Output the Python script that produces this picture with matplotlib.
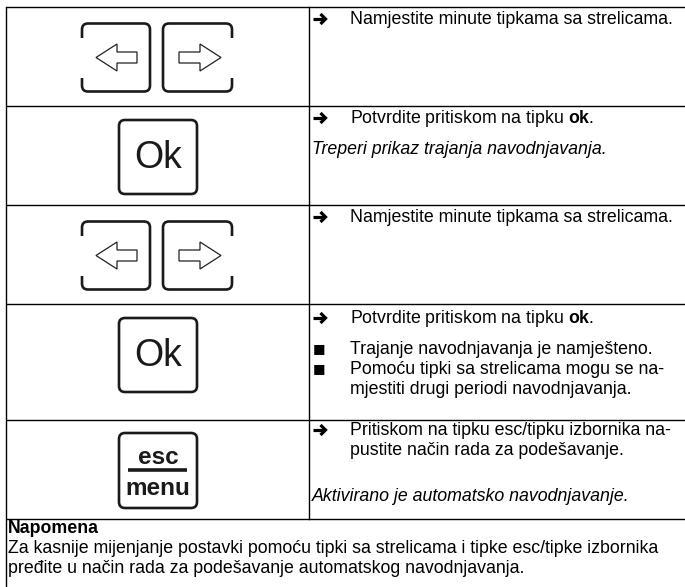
import matplotlib
matplotlib.use('Agg')
import matplotlib.pyplot as plt
from matplotlib.patches import FancyBboxPatch, Rectangle, Polygon

plt.rcParams['font.family'] = ['Liberation Sans', 'DejaVu Sans']
plt.rcParams['mathtext.fontset'] = 'custom'
plt.rcParams['mathtext.rm'] = 'Liberation Sans'
plt.rcParams['mathtext.bf'] = 'Liberation Sans:bold'

# content of the table
key_types = ['arrows', 'ok', 'arrows', 'ok', 'esc']
row_texts = [
    [('arrow', 'Namjestite minute tipkama sa strelicama.', 'normal')],
    [('arrow', r'Potvrdite pritiskom na tipku $\mathbf{ok}$.', 'normal'),
     ('', 'Treperi prikaz trajanja navodnjavanja.', 'italic')],
    [('arrow', 'Namjestite minute tipkama sa strelicama.', 'normal')],
    [('arrow', r'Potvrdite pritiskom na tipku $\mathbf{ok}$.', 'normal'),
     ('bullet', 'Trajanje navodnjavanja je namješteno.', 'normal'),
     ('bullet', 'Pomoću tipki sa strelicama mogu se na-', 'normal'),
     ('', 'mjestiti drugi periodi navodnjavanja.', 'normal')],
    [('arrow', 'Pritiskom na tipku esc/tipku izbornika na-', 'normal'),
     ('', 'pustite način rada za podešavanje.', 'normal'),
     ('', 'Aktivirano je automatsko navodnjavanje.', 'italic')],
]
note_title = 'Napomena'
note_lines = ['Za kasnije mijenjanje postavki pomoću tipki sa strelicama i tipke esc/tipke izbornika',
              'pređite u način rada za podešavanje automatskog navodnjavanja.']

# layout (pixels)
W, H = 685, 587
row_edges = [7, 106, 205, 304, 420, 519]
row_baselines = [[24], [123, 154], [222], [323, 354, 374, 394], [435, 455, 501]]
note_baselines = [533, 553, 573]
x_left, x_mid = 6, 309
FS = 12.8

fig = plt.figure(figsize=(W / 100, H / 100), dpi=100)
ax = fig.add_axes([0, 0, 1, 1])
ax.set_xlim(0, W)
ax.set_ylim(H, 0)
ax.axis('off')

# grid
for y in row_edges:
    ax.plot([x_left, W], [y, y], color='black', lw=1.0, solid_capstyle='butt')
ax.plot([x_left, x_left], [row_edges[0], H], color='black', lw=1.0)
ax.plot([x_mid, x_mid], [row_edges[0], row_edges[-1]], color='black', lw=1.0)

KLW = 1.9


def key_frame(x, y, w, h):
    ax.add_patch(FancyBboxPatch((x, y), w, h, boxstyle='round,pad=0,rounding_size=6',
                                fc='white', ec='#1a1a1a', lw=KLW))


def arrow_keys(y0):
    top = y0 + 16.5
    key_frame(82, top, 68, 68)
    key_frame(163, top, 69, 68)
    # open sides
    ax.add_patch(Rectangle((78, top + 14), 8, 40, fc='white', ec='none'))
    ax.add_patch(Rectangle((228, top + 14), 8, 40, fc='white', ec='none'))
    cy = top + 34
    left = [(96, cy), (117, cy - 13.5), (117, cy - 5.5), (137, cy - 5.5),
            (137, cy + 5.5), (117, cy + 5.5), (117, cy + 13.5)]
    right = [(221, cy), (200, cy - 13.5), (200, cy - 5.5), (179, cy - 5.5),
             (179, cy + 5.5), (200, cy + 5.5), (200, cy + 13.5)]
    for pts in (left, right):
        ax.add_patch(Polygon(pts, closed=True, fc='white', ec='#222222', lw=0.9))


def ok_key(y0):
    top = y0 + 14
    key_frame(119, top, 78, 74)
    ax.text(158, top + 38, 'Ok', fontsize=27, ha='center', va='center', color='#1a1a1a')


def esc_key(y0):
    top = y0 + 13
    key_frame(119, top, 78, 75)
    ax.text(158, top + 31, 'esc', fontsize=17.5, fontweight='bold', ha='center',
            va='baseline', color='#1a1a1a')
    ax.plot([128, 187], [top + 37, top + 37], color='#1a1a1a', lw=2.6, solid_capstyle='butt')
    ax.text(158, top + 62, 'menu', fontsize=17.5, fontweight='bold', ha='center',
            va='baseline', color='#1a1a1a')


def bold_arrow(yc):
    ax.plot([313, 324.5], [yc, yc], color='black', lw=2.3, solid_capstyle='butt')
    ax.plot([320.5, 325.5, 320.5], [yc - 5, yc, yc + 5], color='black', lw=2.3,
            solid_joinstyle='miter', solid_capstyle='butt')


for i, kt in enumerate(key_types):
    y0 = row_edges[i]
    if kt == 'arrows':
        arrow_keys(y0)
    elif kt == 'ok':
        ok_key(y0)
    else:
        esc_key(y0)
    for (mark, txt, style), yb in zip(row_texts[i], row_baselines[i]):
        x_txt = 350 if mark or style == 'normal' else 312
        if mark == 'arrow':
            bold_arrow(yb - 5)
        elif mark == 'bullet':
            ax.text(312.5, yb - 5, '■', family='DejaVu Sans', fontsize=9.5,
                    ha='left', va='center', color='black')
        ax.text(x_txt, yb, txt, fontsize=FS, style=style, ha='left', va='baseline',
                color='black')

ax.text(8, note_baselines[0], note_title, fontsize=FS, fontweight='bold',
        ha='left', va='baseline', color='black')
for txt, yb in zip(note_lines, note_baselines[1:]):
    ax.text(8, yb, txt, fontsize=FS, ha='left', va='baseline', color='black')

fig.savefig('out.png', dpi=100)
